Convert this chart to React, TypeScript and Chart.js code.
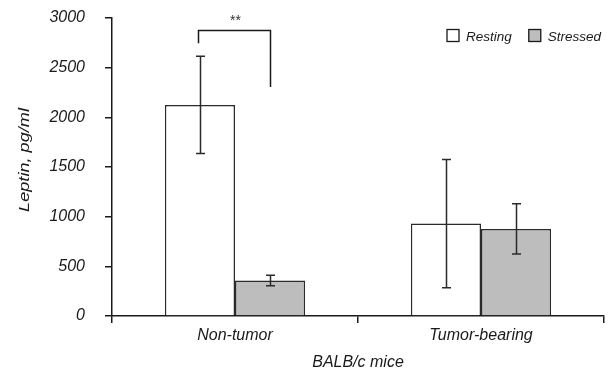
import React, { useEffect, useRef } from "react";
import { Chart, registerables } from "chart.js";

Chart.register(...registerables);

const categories = ["Non-tumor", "Tumor-bearing"];
const seriesLabels = ["Resting", "Stressed"];
const restingValues = [2125, 930];
const restingErrors = [490, 645];
const stressedValues = [357, 877];
const stressedErrors = [52, 252];
const yTickValues = [0, 500, 1000, 1500, 2000, 2500, 3000];
const yTitle = "Leptin, pg/ml";
const xTitle = "BALB/c mice";
const significanceLabel = "**";
const bracketTop = 2880;
const bracketLeftEnd = 2745;
const bracketRightEnd = 2305;

const FONT = "'Liberation Sans', Arial, Helvetica, sans-serif";
const INK = "#1a1a1a";

const errorBarPlugin = {
  id: "errorBars",
  afterDatasetsDraw(chart: any) {
    const ctx = chart.ctx;
    const y = chart.scales.y;
    ctx.save();
    ctx.strokeStyle = "#2a2a2a";
    ctx.lineWidth = 1.5;
    chart.data.datasets.forEach((ds: any, i: number) => {
      const meta = chart.getDatasetMeta(i);
      meta.data.forEach((bar: any, j: number) => {
        const v = ds.data[j];
        const e = ds.errors[j];
        const x = Math.round(bar.x) + 0.5;
        const top = y.getPixelForValue(v + e);
        const bot = y.getPixelForValue(v - e);
        const cap = 4.5;
        ctx.beginPath();
        ctx.moveTo(x, top);
        ctx.lineTo(x, bot);
        ctx.moveTo(x - cap, top);
        ctx.lineTo(x + cap, top);
        ctx.moveTo(x - cap, bot);
        ctx.lineTo(x + cap, bot);
        ctx.stroke();
      });
    });
    ctx.restore();
  },
};

const annotationPlugin = {
  id: "annotations",
  afterDraw(chart: any) {
    const ctx = chart.ctx;
    const y = chart.scales.y;
    const area = chart.chartArea;
    const x1 = Math.round(chart.getDatasetMeta(0).data[0].x) - 1.5;
    const x2 = Math.round(chart.getDatasetMeta(1).data[0].x) + 0.5;
    const yt = Math.round(y.getPixelForValue(bracketTop)) + 0.5;
    const yl = y.getPixelForValue(bracketLeftEnd);
    const yr = y.getPixelForValue(bracketRightEnd);
    ctx.save();
    ctx.strokeStyle = INK;
    ctx.lineWidth = 1.5;
    ctx.beginPath();
    ctx.moveTo(x1, yl);
    ctx.lineTo(x1, yt);
    ctx.lineTo(x2, yt);
    ctx.lineTo(x2, yr);
    ctx.stroke();
    ctx.fillStyle = "#333";
    ctx.font = `14px ${FONT}`;
    ctx.textAlign = "center";
    ctx.textBaseline = "alphabetic";
    ctx.fillText(significanceLabel, (x1 + x2) / 2 + 1, yt - 6);

    // legend
    ctx.font = `italic 13.5px ${FONT}`;
    ctx.textAlign = "left";
    let lx = area.right - 157;
    const boxTop = 29.5;
    chart.data.datasets.forEach((ds: any) => {
      ctx.fillStyle = ds.backgroundColor;
      ctx.fillRect(lx, boxTop, 12, 12);
      ctx.strokeStyle = INK;
      ctx.lineWidth = 1.3;
      ctx.strokeRect(lx, boxTop, 12, 12);
      ctx.fillStyle = INK;
      ctx.fillText(ds.label, lx + 19, 41);
      lx += 19 + ctx.measureText(ds.label).width + 17;
    });

    // y axis title (slightly elongated like the reference lettering)
    ctx.save();
    ctx.translate(25, 160);
    ctx.rotate(-Math.PI / 2);
    ctx.scale(1.17, 1);
    ctx.font = `italic 15.5px ${FONT}`;
    ctx.textAlign = "center";
    ctx.textBaseline = "middle";
    ctx.fillStyle = INK;
    ctx.fillText(yTitle, 0, 0);
    ctx.restore();

    ctx.restore();
  },
};

export default function App() {
  const ref = useRef<HTMLCanvasElement | null>(null);
  useEffect(() => {
    if (!ref.current) return;
    const chart = new Chart(ref.current, {
      type: "bar",
      data: {
        labels: categories,
        datasets: [
          {
            label: seriesLabels[0],
            data: restingValues,
            errors: restingErrors,
            backgroundColor: "#ffffff",
            borderColor: "#2a2a2a",
            borderWidth: 1.5,
            categoryPercentage: 0.57,
            barPercentage: 1,
          } as any,
          {
            label: seriesLabels[1],
            data: stressedValues,
            errors: stressedErrors,
            backgroundColor: "#bdbdbd",
            borderColor: "#2a2a2a",
            borderWidth: 1.5,
            categoryPercentage: 0.57,
            barPercentage: 1,
          } as any,
        ],
      },
      options: {
        animation: false,
        responsive: true,
        maintainAspectRatio: false,
        layout: { padding: { top: 18, right: 4, left: 0, bottom: 0 } },
        plugins: {
          legend: { display: false },
          tooltip: { enabled: false },
        },
        scales: {
          x: {
            offset: true,
            grid: {
              offset: true,
              drawOnChartArea: false,
              drawTicks: true,
              tickLength: 7,
              color: INK,
              lineWidth: 1.5,
            },
            border: { display: true, color: INK, width: 1.5 },
            ticks: {
              padding: 3,
              color: INK,
              font: { family: FONT, size: 16, style: "italic" },
            },
            title: {
              display: true,
              text: xTitle,
              color: INK,
              font: { family: FONT, size: 16, style: "italic", lineHeight: 1 },
              padding: { top: 0, bottom: 0 },
            },
            afterFit(scale: any) {
              scale.height = 55;
              scale.paddingLeft = 0;
              scale.paddingRight = 0;
            },
          },
          y: {
            min: 0,
            max: 3000,
            afterBuildTicks(scale: any) {
              scale.ticks = yTickValues.map((v) => ({ value: v }));
            },
            grid: {
              drawOnChartArea: false,
              drawTicks: true,
              tickLength: 7,
              color: INK,
              lineWidth: 1.5,
            },
            border: { display: true, color: INK, width: 1.5 },
            ticks: {
              padding: 20,
              color: INK,
              font: { family: FONT, size: 16, style: "italic" },
              callback: (v: any) => String(v),
            },
            title: { display: false },
            afterFit(scale: any) {
              scale.width = 112;
              scale.paddingTop = 0;
              scale.paddingBottom = 0;
            },
          },
        },
      },
      plugins: [errorBarPlugin, annotationPlugin],
    } as any);
    return () => chart.destroy();
  }, []);
  return (
    <div style={{ position: "fixed", left: 0, top: 0, width: 608, height: 371, background: "#fff" }}>
      <canvas ref={ref} />
    </div>
  );
}
